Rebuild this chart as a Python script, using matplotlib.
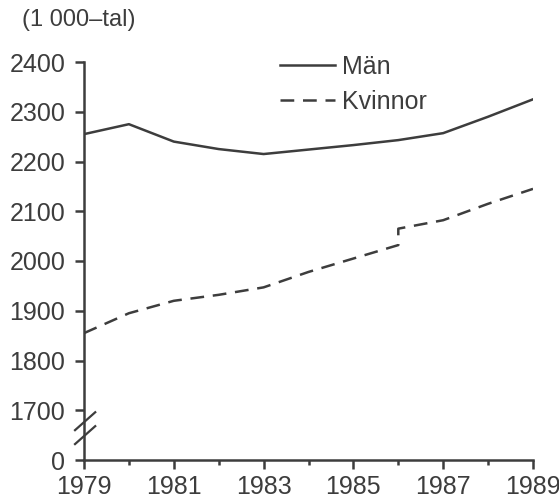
import matplotlib.pyplot as plt
from matplotlib.ticker import FixedLocator

years = [1979, 1980, 1981, 1982, 1983, 1984, 1985, 1986, 1987, 1988, 1989]
man = [2255, 2275, 2240, 2225, 2215, 2224, 2233, 2243, 2257, 2290, 2325]

# kvinnor: break in the series in 1986 (step up)
kv_years = [1979, 1980, 1981, 1982, 1983, 1984, 1985, 1986, 1986, 1987, 1988, 1989]
kvinnor = [1855, 1895, 1920, 1932, 1947, 1978, 2005, 2032, 2065, 2082, 2115, 2145]

ytick_vals = [1600, 1700, 1800, 1900, 2000, 2100, 2200, 2300, 2400]
ytick_labels = ['0', '1700', '1800', '1900', '2000', '2100', '2200', '2300', '2400']
xtick_major = [1979, 1981, 1983, 1985, 1987, 1989]
xtick_minor = [1980, 1982, 1984, 1986, 1988]

ink = '#3d3d3d'
plt.rcParams['font.family'] = ['Liberation Sans', 'DejaVu Sans']

fig = plt.figure(figsize=(5.59, 5.03), dpi=100)
ax = fig.add_axes([84 / 559, 1 - 460 / 503, (533 - 84) / 559, (460 - 62) / 503])

ax.plot(years, man, color=ink, lw=1.8, label='Män')
ax.plot(kv_years, kvinnor, color=ink, lw=1.8, dashes=(5.5, 3.5), label='Kvinnor')

ax.set_xlim(1979, 1989)
ax.set_ylim(1600, 2400)

for s in ['top', 'right']:
    ax.spines[s].set_visible(False)
for s in ['left', 'bottom']:
    ax.spines[s].set_color(ink)
    ax.spines[s].set_linewidth(1.8)

ax.yaxis.set_major_locator(FixedLocator(ytick_vals))
ax.set_yticklabels(ytick_labels)
ax.xaxis.set_major_locator(FixedLocator(xtick_major))
ax.xaxis.set_minor_locator(FixedLocator(xtick_minor))
ax.set_xticklabels([str(y) for y in xtick_major])

ax.tick_params(axis='y', length=6.5, width=1.8, color=ink, labelcolor=ink,
               labelsize=18, pad=7)
ax.tick_params(axis='x', which='major', length=6.5, width=1.8, color=ink,
               labelcolor=ink, labelsize=18, pad=4)
ax.tick_params(axis='x', which='minor', length=3.5, width=1.8, color=ink)

# axis break marks between 0 and 1700
for y0 in (0.055, 0.09):
    ax.plot([-0.02, 0.025], [y0 - 0.015, y0 + 0.03], transform=ax.transAxes,
            color=ink, lw=1.6, clip_on=False)

fig.text(22 / 559, 1 - 20 / 503, '(1 000–tal)', fontsize=17, color=ink,
         va='center', ha='left')

leg = ax.legend(loc='upper left', bbox_to_anchor=(267 / 559, 1 - 42 / 503),
                bbox_transform=fig.transFigure, frameon=False, fontsize=18,
                handlelength=2.2, handletextpad=0.3, labelspacing=0.45,
                borderpad=0)
for t in leg.get_texts():
    t.set_color(ink)

fig.savefig('out.png', dpi=100, facecolor='white')
